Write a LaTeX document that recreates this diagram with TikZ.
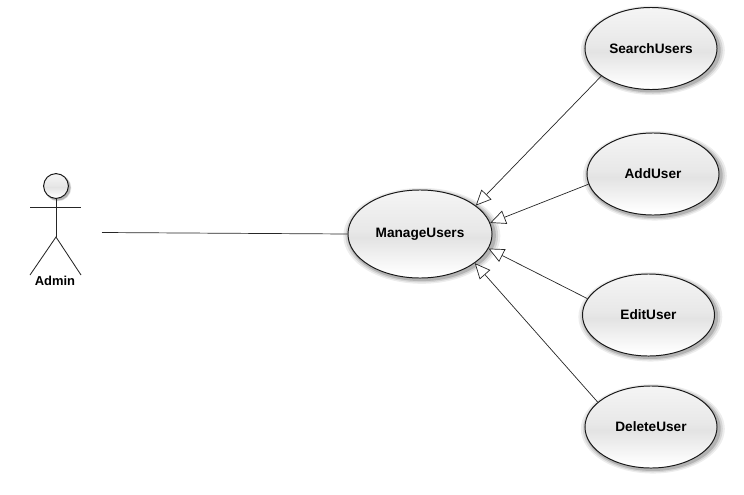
\documentclass[tikz,border=0pt]{standalone}
\usepackage{fontspec}
\setmainfont{Liberation Sans}
\usetikzlibrary{shapes.geometric, arrows.meta, shadows}
\pgfdeclareverticalshading{glossy}{100bp}{color(0bp)=(white); color(27bp)=(white); color(48bp)=(black!11); color(52bp)=(black!9); color(75bp)=(black!4); color(100bp)=(black!4)}
\tikzset{
  softshadow/.style={
    drop shadow={shadow xshift=1.2pt,shadow yshift=-1.2pt,shadow scale=1.09,opacity=.07,fill=black},
    drop shadow={shadow xshift=1.2pt,shadow yshift=-1.2pt,shadow scale=1.06,opacity=.10,fill=black},
    drop shadow={shadow xshift=1.2pt,shadow yshift=-1.2pt,shadow scale=1.03,opacity=.16,fill=black}},
  usecase/.style={ellipse, draw=black!90, line width=0.7pt, shading=glossy, softshadow,
    minimum width=3.3cm, minimum height=2.05cm, inner sep=0pt, font=\fontsize{9.7}{12}\bfseries},
  generalizes/.style={draw=black!85, line width=0.5pt, -{Triangle[open,length=11pt,width=10pt,fill=white]}},
  stickman/.style={draw=black!85, line width=0.6pt}
}
\begin{document}
\begin{tikzpicture}[x=0.025cm,y=-0.025cm]
  \useasboundingbox (0,0) rectangle (744,494);

  % Use cases
  \node[usecase, minimum width=3.6cm, minimum height=2.2cm] (manage) at (420,234) {ManageUsers};
  \node[usecase] (search) at (651,48.5) {SearchUsers};
  \node[usecase] (add) at (653,174) {AddUser};
  \node[usecase] (edit) at (648.5,315) {EditUser};
  \node[usecase] (delete) at (651,427) {DeleteUser};

  % Actor
  \node[circle, draw=black!90, line width=0.7pt, shading=glossy, softshadow, minimum size=0.62cm, inner sep=0pt] (head) at (56,186) {};
  \coordinate (neck) at (56,237);
  \coordinate (armleft) at (30,207);
  \coordinate (armright) at (81,207);
  \coordinate (footleft) at (30,275);
  \coordinate (footright) at (81,275);
  \draw[stickman] (head) -- (neck);
  \draw[stickman] (armleft) -- (armright);
  \draw[stickman] (footleft) -- (neck) -- (footright);
  \node[font=\fontsize{9.2}{11}\bfseries] (admin) at (55,281) {Admin};

  % Connectors
  \coordinate (adminend) at (102,232.5);
  \draw[draw=black!85, line width=0.5pt] (adminend) -- (manage.west);
  \draw[generalizes] (search.209) -- (manage.27);
  \draw[generalizes] (add.189) -- (manage.9);
  \draw[generalizes] (edit.165) -- (manage.-12);
  \draw[generalizes] (delete.155) -- (manage.-28);
\end{tikzpicture}
\end{document}
